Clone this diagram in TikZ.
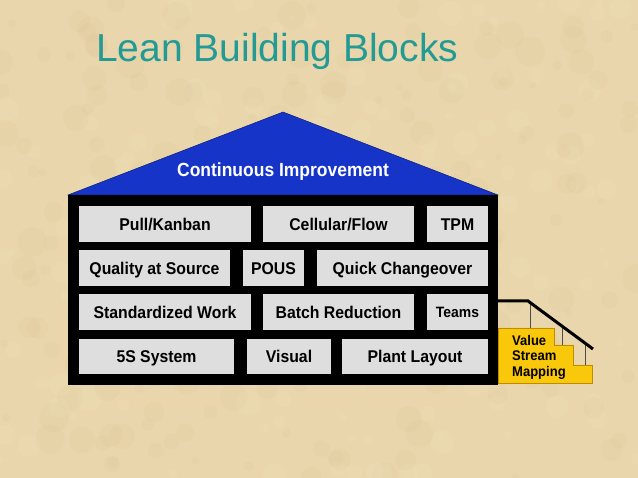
\documentclass[tikz,border=0pt]{standalone}
\usepackage{fontspec}
\setmainfont{Liberation Sans}
\newfontfamily\narrowsans[FakeStretch=0.93]{Liberation Sans}
\newfontfamily\roofsans[FakeStretch=0.92]{Liberation Sans}
\definecolor{parch}{RGB}{233,214,172}
\definecolor{parchdark}{RGB}{215,190,140}
\definecolor{parchlight}{RGB}{242,228,195}
\definecolor{titleteal}{RGB}{36,154,148}
\definecolor{roofblue}{RGB}{22,52,200}
\definecolor{blockgray}{RGB}{222,222,222}
\definecolor{stairyellow}{RGB}{250,200,10}
\definecolor{stairedge}{RGB}{190,140,0}
\begin{document}
\begin{tikzpicture}[x=1pt,y=-1pt,
  blk/.style={fill=blockgray, draw=none, inner sep=0pt, minimum height=36pt,
    text height=12.4pt, text depth=0pt,
    font=\narrowsans\bfseries\fontsize{17}{20}\selectfont, text=black},
  blksmall/.style={blk, text height=11pt, font=\narrowsans\bfseries\fontsize{15}{18}\selectfont}]
\useasboundingbox (0,0) rectangle (638,478);
\fill[parch] (0,0) rectangle (638,478);
% subtle texture
\pgfmathsetseed{7}
\foreach \i in {1,...,220} {
  \pgfmathsetmacro{\px}{rnd*638}
  \pgfmathsetmacro{\py}{rnd*478}
  \pgfmathsetmacro{\r}{3+rnd*12}
  \fill[parchdark, opacity=0.12] (\px,\py) circle[radius=\r];
}
\foreach \i in {1,...,160} {
  \pgfmathsetmacro{\px}{rnd*638}
  \pgfmathsetmacro{\py}{rnd*478}
  \pgfmathsetmacro{\r}{3+rnd*10}
  \fill[parchlight, opacity=0.15] (\px,\py) circle[radius=\r];
}
% title
\node[anchor=base west, inner sep=0pt, text=titleteal, font=\fontsize{39}{44}\selectfont] (title) at (96,62) {Lean Building Blocks};
% house body
\fill[black] (68,195) rectangle (498,385);
\coordinate (bodyNE) at (498,301);
% roof
\fill[roofblue, draw=roofblue!60!black, line width=0.5pt] (68,195) -- (283,112) -- (498,195) -- cycle;
\node[anchor=base, inner sep=0pt, text=white, font=\roofsans\bfseries\fontsize{19}{22}\selectfont] (ci) at (283,177) {Continuous Improvement};
% row 1
\node[blk, minimum width=172pt] (pk) at (165,224) {Pull/Kanban};
\node[blk, minimum width=151pt] (cf) at (338.5,224) {Cellular/Flow};
\node[blk, minimum width=61pt] (tpm) at (457.5,224) {TPM};
% row 2
\node[blk, minimum width=151pt] (qs) at (154.5,268) {Quality at Source};
\node[blk, minimum width=61pt] (pous) at (273.5,268) {POUS};
\node[blk, minimum width=171pt] (qc) at (402.5,268) {Quick Changeover};
% row 3
\node[blk, minimum width=172pt] (sw) at (165,312) {Standardized Work};
\node[blk, minimum width=151pt] (br) at (338.5,312) {Batch Reduction};
\node[blksmall, minimum width=61pt] (teams) at (457.5,312) {Teams};
% row 4
\node[blk, minimum width=155pt, minimum height=35pt] (fives) at (156.5,356.5) {5S System};
\node[blk, minimum width=84pt, minimum height=35pt] (visual) at (289,356.5) {Visual};
\node[blk, minimum width=146pt, minimum height=35pt] (plant) at (415,356.5) {Plant Layout};
% stairs
\fill[stairyellow, draw=stairedge, line width=0.6pt] (498,328) -- (554,328) -- (554,345) -- (573,345) -- (573,365) -- (592,365) -- (592,383) -- (498,383) -- cycle;
\draw[black!70, line width=0.6pt] (530,301) -- (530,328);
\draw[black!70, line width=0.6pt] (562,326) -- (562,345);
\draw[black!70, line width=0.6pt] (585,343) -- (585,365);
\coordinate (railbend) at (528,301);
\coordinate (railend) at (593,349);
\draw[black, line width=3pt] (bodyNE) -- (railbend) -- (railend);
\node[anchor=north west, inner sep=0pt, align=left, text=black,
  font=\narrowsans\bfseries\fontsize{14}{15.5}\selectfont] (vsm) at (512,335) {Value\\Stream\\Mapping};
\end{tikzpicture}
\end{document}
